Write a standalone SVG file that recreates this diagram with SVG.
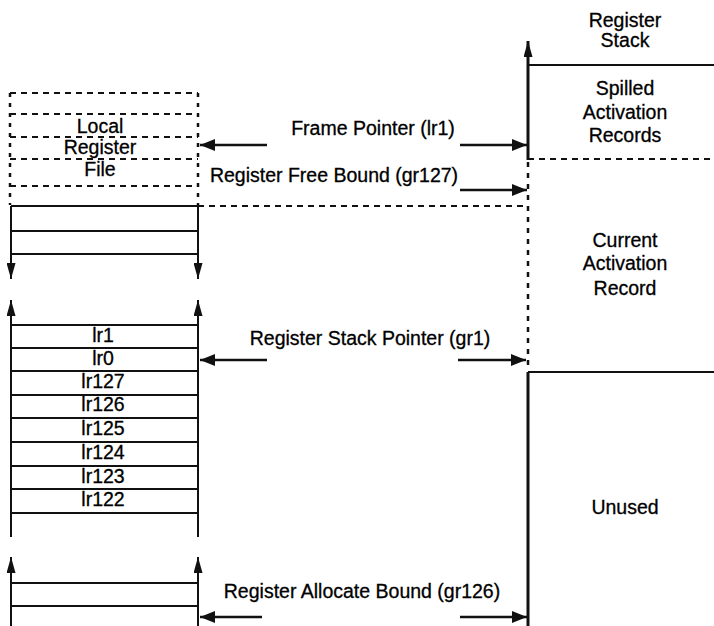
<svg xmlns="http://www.w3.org/2000/svg" width="714" height="626" viewBox="0 0 714 626">
<style>
text{font-family:"Liberation Sans",Arial,sans-serif;font-size:19.5px;fill:#000;stroke:#000;stroke-width:0.3;text-anchor:middle}
.s{stroke:#111;stroke-width:2;fill:none}
.h{stroke:#111;stroke-width:2.5;fill:none}
.d{stroke:#111;stroke-width:2;fill:none;stroke-dasharray:6,5}
.dv{stroke:#111;stroke-width:2.5;fill:none;stroke-dasharray:4,6}
.dot{stroke:#111;stroke-width:2.5;fill:none;stroke-dasharray:5,6}
.thick{stroke:#111;stroke-width:3;fill:none}
</style>
<defs>
<marker id="ah" viewBox="0 0 15 12" refX="15" refY="6" markerWidth="15" markerHeight="12" markerUnits="userSpaceOnUse" orient="auto">
<path d="M0,0 L15,6 L0,12 z" fill="#111"/>
</marker>
<marker id="av" viewBox="0 0 16 9" refX="16" refY="4.5" markerWidth="16" markerHeight="9" markerUnits="userSpaceOnUse" orient="auto">
<path d="M0,0 L16,4.5 L0,9 z" fill="#111"/>
</marker>
</defs>
<rect width="714" height="626" fill="#fff"/>

<g id="local-register-file">
<line x1="10" y1="93" x2="198" y2="93" class="d"/>
<line x1="10" y1="93" x2="10" y2="205" class="dv"/>
<line x1="198" y1="93" x2="198" y2="205" class="dv"/>
<line x1="10" y1="114" x2="198" y2="114" class="d"/>
<line x1="10" y1="137" x2="198" y2="137" class="d"/>
<line x1="10" y1="159" x2="198" y2="159" class="d"/>
<line x1="10" y1="186" x2="198" y2="186" class="d"/>
<text x="100" y="133">Local</text>
<text x="100" y="154">Register</text>
<text x="100" y="176">File</text>
</g>

<g id="left-top-block">
<line x1="11" y1="206" x2="198" y2="206" class="s"/>
<line x1="11" y1="231" x2="198" y2="231" class="s"/>
<line x1="11" y1="254" x2="198" y2="254" class="s"/>
</g>

<g id="left-register-block">
<line x1="11" y1="325" x2="198" y2="325" class="s"/>
<line x1="11" y1="348" x2="198" y2="348" class="s"/>
<line x1="11" y1="371" x2="198" y2="371" class="s"/>
<line x1="11" y1="395" x2="198" y2="395" class="s"/>
<line x1="11" y1="418" x2="198" y2="418" class="s"/>
<line x1="11" y1="442" x2="198" y2="442" class="s"/>
<line x1="11" y1="466" x2="198" y2="466" class="s"/>
<line x1="11" y1="489" x2="198" y2="489" class="s"/>
<line x1="11" y1="513" x2="198" y2="513" class="s"/>
<text x="103" y="342">lr1</text>
<text x="103" y="365">lr0</text>
<text x="103" y="388">lr127</text>
<text x="103" y="411">lr126</text>
<text x="103" y="435">lr125</text>
<text x="103" y="459">lr124</text>
<text x="103" y="483">lr123</text>
<text x="103" y="506">lr122</text>
</g>

<g id="left-bottom-block">
<line x1="11" y1="583" x2="198" y2="583" class="s"/>
<line x1="11" y1="606" x2="198" y2="606" class="s"/>
</g>

<g id="register-stack">
<text x="625" y="27">Register</text>
<text x="625" y="47">Stack</text>
<line x1="528" y1="65" x2="714" y2="65" class="s"/>
<text x="625" y="95">Spilled</text>
<text x="625" y="119">Activation</text>
<text x="625" y="142">Records</text>
<line x1="528" y1="159" x2="714" y2="159" class="d"/>
<text x="625" y="247">Current</text>
<text x="625" y="270">Activation</text>
<text x="625" y="295">Record</text>
<line x1="528" y1="372" x2="714" y2="372" class="s"/>
<text x="625" y="514">Unused</text>
</g>

<g id="labels">
<text x="373" y="135">Frame Pointer (lr1)</text>
<text x="334" y="182">Register Free Bound (gr127)</text>
<text x="370" y="345">Register Stack Pointer (gr1)</text>
<text x="362" y="598">Register Allocate Bound (gr126)</text>
</g>

<g id="connectors">
<line x1="11" y1="206" x2="11" y2="279" class="s" marker-end="url(#av)"/>
<line x1="198" y1="206" x2="198" y2="279" class="s" marker-end="url(#av)"/>
<line x1="11" y1="537" x2="11" y2="300" class="s" marker-end="url(#av)"/>
<line x1="198" y1="537" x2="198" y2="300" class="s" marker-end="url(#av)"/>
<line x1="11" y1="626" x2="11" y2="557" class="s" marker-end="url(#av)"/>
<line x1="198" y1="626" x2="198" y2="557" class="s" marker-end="url(#av)"/>
<line x1="198" y1="206" x2="528" y2="206" class="d"/>
<line x1="528" y1="160" x2="528" y2="41" class="thick" marker-end="url(#av)"/>
<line x1="528" y1="162" x2="528" y2="370" class="dot"/>
<line x1="528" y1="372" x2="528" y2="626" class="thick"/>
<line x1="267" y1="145" x2="200" y2="145" class="h" marker-end="url(#ah)"/>
<line x1="460" y1="145" x2="527" y2="145" class="h" marker-end="url(#ah)"/>
<line x1="460" y1="190" x2="527" y2="190" class="h" marker-end="url(#ah)"/>
<line x1="267" y1="360" x2="200" y2="360" class="h" marker-end="url(#ah)"/>
<line x1="458" y1="360" x2="526" y2="360" class="h" marker-end="url(#ah)"/>
<line x1="262" y1="617" x2="200" y2="617" class="h" marker-end="url(#ah)"/>
<line x1="460" y1="617" x2="527" y2="617" class="h" marker-end="url(#ah)"/>
</g>
</svg>
